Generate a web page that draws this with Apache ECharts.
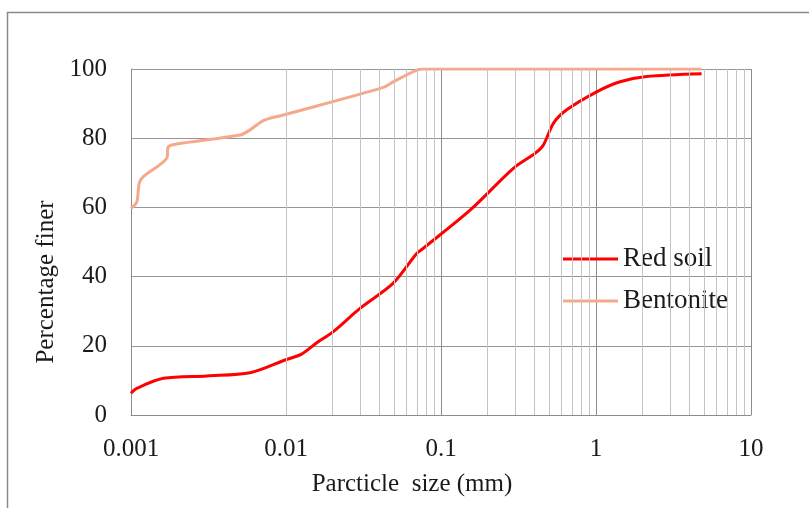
<!DOCTYPE html>
<html>
<head>
<meta charset="utf-8">
<script src="https://cdn.jsdelivr.net/npm/echarts@6/dist/echarts.min.js"></script>
<style>html,body{margin:0;padding:0;background:#fff;}#chart{width:809px;height:508px;}</style>
</head>
<body>
<div id="chart"></div>
<script>
// Data
const redSizes = [0.001, 0.00109, 0.00162, 0.00308, 0.00586, 0.00987, 0.0126, 0.0158, 0.0202, 0.030, 0.0492, 0.0697, 0.0769, 0.154, 0.293, 0.404, 0.457, 0.531, 0.647, 1.01, 1.43, 2.12, 4.8];
const redFiner = [6.3, 7.7, 10.6, 11.3, 12.2, 15.9, 17.6, 20.9, 24.1, 30.8, 38.1, 46.7, 48.2, 59.2, 71.3, 75.6, 78.0, 84.3, 88.2, 93.4, 96.3, 97.8, 98.6];
const bentoniteSizes = [0.001, 0.00109, 0.00113, 0.0012, 0.0017, 0.00174, 0.00197, 0.00505, 0.00586, 0.00715, 0.00962, 0.0425, 0.0492, 0.0697, 0.0769, 4.8];
const bentoniteFiner = [59.7, 61.6, 67.0, 68.9, 74.2, 77.5, 78.3, 80.9, 82.4, 85.1, 86.7, 94.7, 96.3, 99.7, 100, 100];
const seriesNames = ['Red soil', 'Bentonite'];
const yTicks = [0, 20, 40, 60, 80, 100];
const decades = [0.001, 0.01, 0.1, 1];
const minorMultipliers = [2, 3, 4, 5, 6, 7, 8, 9];

const minorValues = [];
decades.forEach(d => minorMultipliers.forEach(m => minorValues.push(+(d * m).toPrecision(3))));

const FONT = 'Liberation Serif';
const chart = echarts.init(document.getElementById('chart'), null, {renderer: 'canvas'});
chart.setOption({
  backgroundColor: '#ffffff',
  animation: false,
  graphic: [{
    type: 'rect', silent: true, z: -10,
    shape: {x: 7.5, y: 12.5, width: 900, height: 600},
    style: {fill: 'none', stroke: '#8a8a8a', lineWidth: 1.5}
  }],
  grid: {left: 131, top: 69, right: 58, bottom: 93, containLabel: false, show: false},
  legend: {
    orient: 'vertical', left: 558, top: 239,
    itemWidth: 55, itemHeight: 3, itemGap: 12, icon: 'rect',
    data: seriesNames,
    textStyle: {fontFamily: FONT, fontSize: 27, color: '#1a1a1a', lineHeight: 30}
  },
  xAxis: {
    type: 'log', logBase: 10, min: 0.001, max: 10,
    name: 'Parcticle  size (mm)', nameLocation: 'middle', nameGap: 57,
    nameTextStyle: {fontFamily: FONT, fontSize: 25, color: '#1a1a1a', padding: [0, 58, 0, 0]},
    axisLine: {show: true, lineStyle: {color: '#8c8c8c', width: 1}},
    axisTick: {show: false},
    axisLabel: {fontFamily: FONT, fontSize: 25, color: '#1a1a1a', margin: 22,
      formatter: v => String(+v.toPrecision(3))},
    splitLine: {show: true, lineStyle: {color: '#8c8c8c', width: 1}}
  },
  yAxis: {
    type: 'value', min: 0, max: 100, interval: 20,
    name: 'Percentage finer', nameLocation: 'middle', nameGap: 70,
    nameTextStyle: {fontFamily: FONT, fontSize: 25, color: '#1a1a1a', padding: [0, 80, 0, 0]},
    axisLine: {show: true, lineStyle: {color: '#8c8c8c', width: 1}},
    axisTick: {show: false},
    axisLabel: {fontFamily: FONT, fontSize: 25, color: '#1a1a1a', margin: 24,
      formatter: v => yTicks.includes(v) ? String(v) : ''},
    splitLine: {show: true, lineStyle: {color: '#969696', width: 1}}
  },
  series: [
    {
      name: 'minor', type: 'line', data: [], z: 1, silent: true,
      markLine: {
        silent: true, symbol: ['none', 'none'], label: {show: false}, animation: false,
        lineStyle: {color: '#c4c4c4', width: 1, type: 'solid'},
        data: minorValues.map(v => ({xAxis: v}))
      }
    },
    {
      name: seriesNames[0], type: 'line', z: 4,
      data: redSizes.map((x, i) => [x, redFiner[i]]),
      symbol: 'none', showSymbol: false, smooth: 0.3,
      lineStyle: {color: '#ff0000', width: 3}, itemStyle: {color: '#ff0000'}
    },
    {
      name: seriesNames[1], type: 'line', z: 3,
      data: bentoniteSizes.map((x, i) => [x, bentoniteFiner[i]]),
      symbol: 'none', showSymbol: false, smooth: 0.3,
      lineStyle: {color: '#f5a98a', width: 3}, itemStyle: {color: '#f5a98a'}
    }
  ]
});
</script>
</body>
</html>
